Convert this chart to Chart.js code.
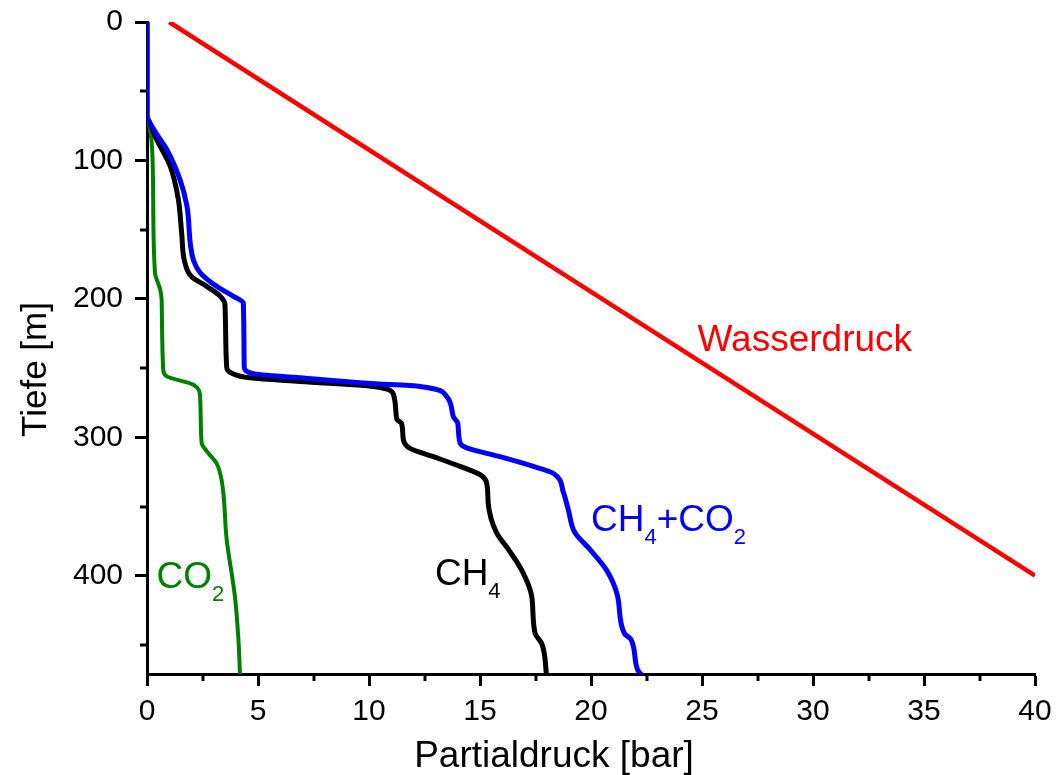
<!DOCTYPE html>
<html>
<head>
<meta charset="utf-8">
<script src="https://cdn.jsdelivr.net/npm/chart.js@4/dist/chart.umd.min.js"></script>
<style>
  html, body { margin: 0; padding: 0; background: #fff; }
  #wrap { width: 1058px; height: 775px; position: relative; }
</style>
</head>
<body>
<div id="wrap"><canvas id="myChart"></canvas></div>
<script>
// Partialdruck [bar] vs. Tiefe [m]
var ch4co2Druck = [0, 0, 0.1, 0.6, 0.89, 1.49, 1.8, 2.09, 2.39, 3.14, 3.88, 4.34, 4.38, 4.78, 6.9, 9.9, 12.3, 13.5, 13.8, 14.0, 14.1, 14.4, 15.9, 17.4, 18.3, 18.76, 18.98, 19.28, 19.95, 20.7, 21.2, 21.5, 21.8, 22.1, 22.3];
var ch4co2Tiefe = [0, 68, 72, 85, 92, 114, 133, 172, 181, 191, 198, 203, 249, 254, 257, 261, 263.3, 270.6, 285, 290, 304, 307.7, 314, 321, 326, 340, 352.5, 369, 381, 396, 415, 441.6, 446, 468, 472];

var ch4Druck = [0, 0, 0.1, 0.44, 1.04, 1.41, 1.56, 1.71, 2.01, 2.69, 3.29, 3.51, 3.59, 3.82, 4.64, 6.9, 10.2, 11.1, 11.25, 11.47, 11.55, 11.85, 12.9, 14.1, 15.0, 15.3, 15.37, 15.75, 16.28, 16.88, 17.33, 17.48, 17.78, 18.0];
var ch4Tiefe = [0, 68, 72, 85, 104, 128, 152, 174, 184, 191, 198, 204, 249, 253.7, 257, 259.7, 263.3, 269, 287, 290, 302, 308, 314, 321, 327, 333, 347.6, 369, 381, 396, 415, 441.6, 449, 472];

var co2Druck = [0, 0, 0.06, 0.2, 0.28, 0.36, 0.59, 0.66, 0.73, 0.89, 2.09, 2.39, 2.46, 2.69, 3.14, 3.36, 3.59, 3.96, 4.12, 4.19];
var co2Tiefe = [0, 68, 72, 85, 128, 181, 193, 200.6, 251, 256, 262, 270.6, 304, 310, 319, 331, 374, 415, 446.5, 472];

var wasserDruck = [1, 40];
var wasserTiefe = [0, 400];

var xTicks = [0, 5, 10, 15, 20, 25, 30, 35, 40];
var yTicks = [0, 100, 200, 300, 400];
var xMinor = [2.5, 7.5, 12.5, 17.5, 22.5, 27.5, 32.5, 37.5];
var yMinor = [50, 150, 250, 350, 450];

var xTitle = "Partialdruck [bar]";
var yTitle = "Tiefe [m]";

function pts(xs, ys) {
    var out = [];
    for (var i = 0; i < xs.length; i++) out.push({ x: xs[i], y: ys[i] });
    return out;
}

var FONT = "'Liberation Sans', Arial, sans-serif";

// text labels inside the plot (data coordinates)
var labels = [
    { parts: [["Wasserdruck", 0]], x: 24.8, y: 238, color: "#ff0000" },
    { parts: [["CH", 0], ["4", 1], ["+CO", 0], ["2", 1]], x: 20.0, y: 368, color: "#0000ff" },
    { parts: [["CH", 0], ["4", 1]], x: 12.97, y: 406.7, color: "#000000" },
    { parts: [["CO", 0], ["2", 1]], x: 0.43, y: 409, color: "#008000" }
];

var decorPlugin = {
    id: "decor",
    afterDatasetsDraw: function (chart) {
        var ctx = chart.ctx;
        var xs = chart.scales.x, ys = chart.scales.y;
        var area = chart.chartArea;
        ctx.save();
        // minor ticks
        ctx.strokeStyle = "#000";
        ctx.lineWidth = 3;
        ctx.beginPath();
        xMinor.forEach(function (v) {
            var px = Math.round(xs.getPixelForValue(v));
            ctx.moveTo(px, area.bottom);
            ctx.lineTo(px, area.bottom + 7);
        });
        yMinor.forEach(function (v) {
            var py = Math.round(ys.getPixelForValue(v));
            ctx.moveTo(area.left, py);
            ctx.lineTo(area.left - 7, py);
        });
        ctx.stroke();
        // labels
        ctx.textBaseline = "alphabetic";
        ctx.textAlign = "left";
        labels.forEach(function (l) {
            var px = xs.getPixelForValue(l.x);
            var py = ys.getPixelForValue(l.y);
            ctx.fillStyle = l.color;
            l.parts.forEach(function (p) {
                if (p[1]) {
                    ctx.font = "22px " + FONT;
                    ctx.fillText(p[0], px, py + 13);
                } else {
                    ctx.font = "37px " + FONT;
                    ctx.fillText(p[0], px, py);
                }
                px += ctx.measureText(p[0]).width;
            });
        });
        // axis titles (placed like the original, slightly off-centre)
        ctx.fillStyle = "#000";
        ctx.textAlign = "center";
        ctx.font = "37px " + FONT;
        ctx.fillText(xTitle, 554, 767);
        ctx.translate(46, 369.5);
        ctx.rotate(-Math.PI / 2);
        ctx.font = "35px " + FONT;
        ctx.fillText(yTitle, 0, 0);
        ctx.restore();
    }
};

document.addEventListener("DOMContentLoaded", function () {
    var canvas = document.getElementById("myChart");
    var ctx = canvas.getContext("2d");
    new Chart(ctx, {
        type: "scatter",
        data: {
            datasets: [
                { label: "CH4+CO2", data: pts(ch4co2Druck, ch4co2Tiefe), borderColor: "#0000ff", borderWidth: 5 },
                { label: "CH4", data: pts(ch4Druck, ch4Tiefe), borderColor: "#000000", borderWidth: 5 },
                { label: "CO2", data: pts(co2Druck, co2Tiefe), borderColor: "#008000", borderWidth: 4 },
                { label: "Wasserdruck", data: pts(wasserDruck, wasserTiefe), borderColor: "#ff0000", borderWidth: 4.5 }
            ]
        },
        options: {
            responsive: true,
            maintainAspectRatio: false,
            animation: false,
            showLine: true,
            indexAxis: "y",
            elements: {
                point: { radius: 0, hoverRadius: 0 },
                line: { cubicInterpolationMode: "monotone", borderJoinStyle: "round", borderCapStyle: "butt" }
            },
            layout: { padding: { left: 0, right: 23, top: 22, bottom: 0 } },
            plugins: {
                legend: { display: false },
                tooltip: { enabled: false }
            },
            scales: {
                x: {
                    type: "linear",
                    min: 0,
                    max: 40,
                    afterBuildTicks: function (s) { s.ticks = xTicks.map(function (v) { return { value: v }; }); },
                    afterFit: function (s) { s.height = 101; s.paddingLeft = 0; s.paddingRight = 0; },
                    grid: { drawOnChartArea: false, tickLength: 12, tickWidth: 3, tickColor: "#000" },
                    border: { display: true, color: "#000", width: 3 },
                    ticks: { color: "#000", font: { family: FONT, size: 30 }, padding: 8, maxRotation: 0 }
                },
                y: {
                    type: "linear",
                    reverse: true,
                    min: 0,
                    max: 471,
                    afterBuildTicks: function (s) { s.ticks = yTicks.map(function (v) { return { value: v }; }); },
                    afterFit: function (s) { s.width = 147; s.paddingTop = 0; s.paddingBottom = 0; },
                    grid: { drawOnChartArea: false, tickLength: 12, tickWidth: 3, tickColor: "#000" },
                    border: { display: true, color: "#000", width: 3 },
                    ticks: { color: "#000", font: { family: FONT, size: 30 }, padding: 12 }
                }
            }
        },
        plugins: [decorPlugin]
    });
});
</script>
</body>
</html>
